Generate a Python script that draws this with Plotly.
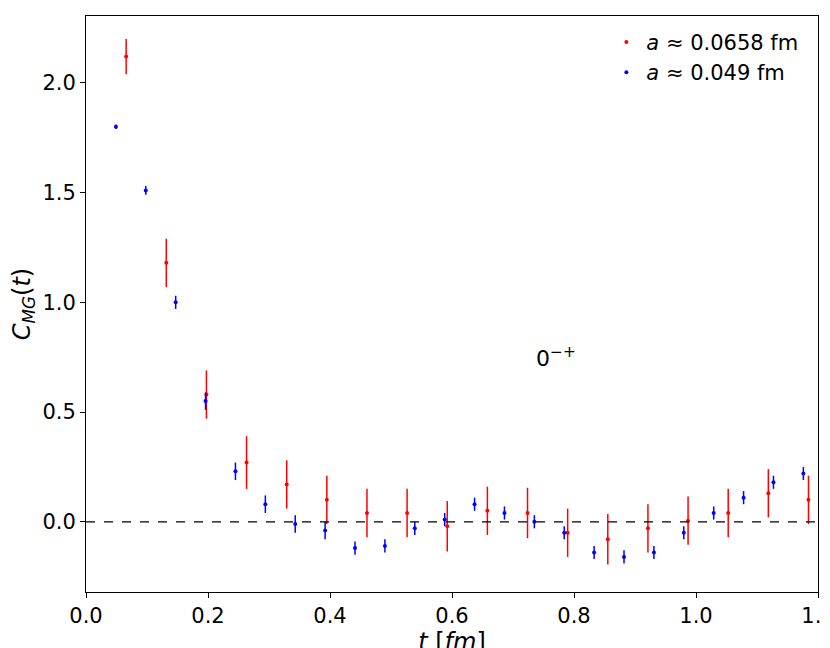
import plotly.graph_objects as go

a_red = 0.0658
red_n = list(range(1, 19))
red_y = [2.12, 1.18, 0.58, 0.27, 0.17, 0.10, 0.04, 0.04, -0.02, 0.05, 0.04, -0.05, -0.08, -0.03, 0.005, 0.04, 0.13, 0.10]
red_err = [0.08, 0.11, 0.11, 0.12, 0.11, 0.11, 0.11, 0.11, 0.115, 0.11, 0.115, 0.11, 0.115, 0.11, 0.11, 0.11, 0.11, 0.11]

a_blue = 0.049
blue_n = list(range(1, 25))
blue_y = [1.80, 1.51, 1.00, 0.55, 0.23, 0.08, -0.01, -0.04, -0.12, -0.11, -0.03, 0.01, 0.08, 0.04, 0.00,
          -0.05, -0.14, -0.16, -0.14, -0.05, 0.04, 0.11, 0.18, 0.22]
blue_err = [0.01, 0.02, 0.03, 0.04, 0.04, 0.04, 0.04, 0.04, 0.03, 0.03, 0.03, 0.03, 0.03, 0.03, 0.03,
            0.03, 0.03, 0.03, 0.03, 0.03, 0.03, 0.03, 0.03, 0.03]

fig = go.Figure()
fig.add_trace(go.Scatter(x=[n * a_red for n in red_n], y=red_y, mode="markers",
                         marker=dict(color="red", size=4),
                         error_y=dict(array=red_err, color="red", thickness=1.5, width=0),
                         name="<i>a</i> ≈ 0.0658 fm"))
fig.add_trace(go.Scatter(x=[n * a_blue for n in blue_n], y=blue_y, mode="markers",
                         marker=dict(color="blue", size=4),
                         error_y=dict(array=blue_err, color="blue", thickness=1.5, width=0),
                         name="<i>a</i> ≈ 0.049 fm"))
fig.add_hline(y=0, line=dict(color="black", dash="dash", width=1.2))
fig.add_annotation(x=0.77, y=0.75, text="0<sup>−+</sup>", showarrow=False,
                   font=dict(size=22, color="black"))

axis = dict(showgrid=False, zeroline=False, showline=True, linecolor="black", linewidth=1,
            mirror=True, ticks="outside", ticklen=5, tickcolor="black", automargin=False,
            tickfont=dict(size=21, color="black"))
fig.update_xaxes(axis, range=[0, 1.2], dtick=0.2, tickformat=".1f",
                 title=dict(text="<i>t</i> [<i>fm</i>]", font=dict(size=24, color="black"), standoff=2))
fig.update_yaxes(axis, range=[-0.32, 2.305], tickvals=[0, 0.5, 1, 1.5, 2], tickformat=".1f",
                 title=dict(text="<i>C<sub>MG</sub></i>(<i>t</i>)", font=dict(size=24, color="black"), standoff=6))
fig.update_layout(width=830, height=648, plot_bgcolor="white", paper_bgcolor="white",
                  font=dict(family="DejaVu Sans"),
                  margin=dict(l=78, r=20, t=8, b=64),
                  legend=dict(x=0.98, y=0.99, xanchor="right", yanchor="top",
                              font=dict(size=21, color="black"), bgcolor="rgba(0,0,0,0)"))
fig.write_html("out.html")
